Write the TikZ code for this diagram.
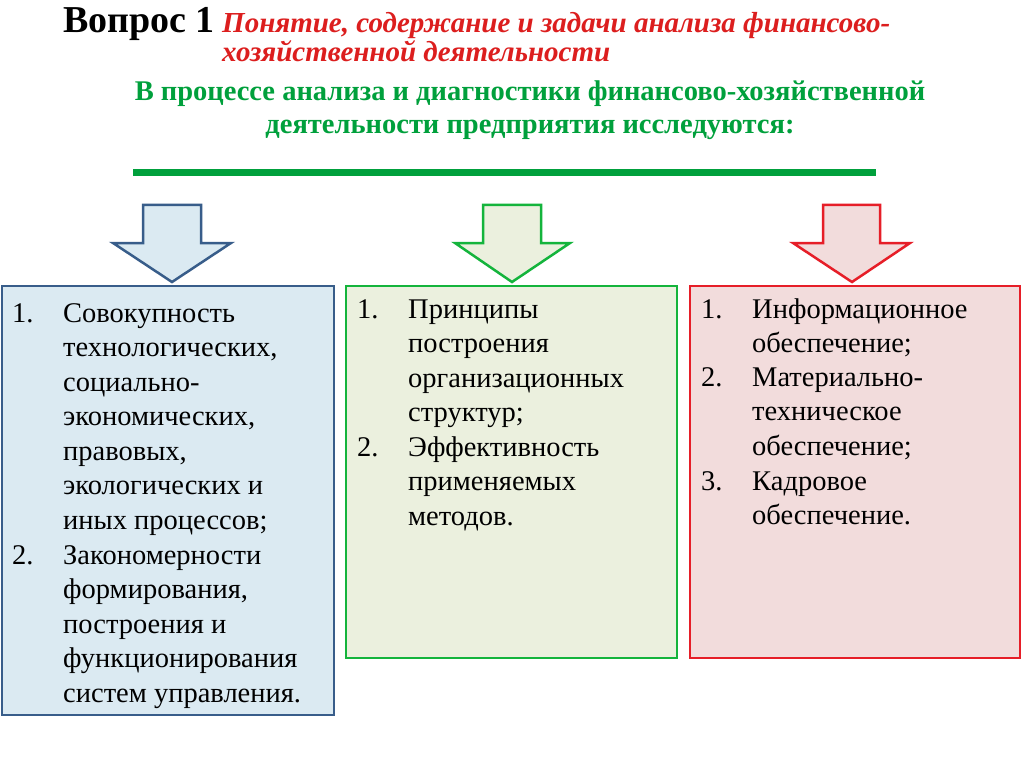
\documentclass[tikz,border=0pt]{standalone}
\usepackage{fontspec}
\setmainfont{Liberation Serif}
\definecolor{bbord}{RGB}{56,93,138}
\definecolor{bfill}{RGB}{219,234,242}
\definecolor{gbord}{RGB}{20,180,60}
\definecolor{gfill}{RGB}{235,240,222}
\definecolor{rbord}{RGB}{230,30,40}
\definecolor{rfill}{RGB}{242,220,220}
\definecolor{ttlred}{RGB}{220,30,30}
\definecolor{ttlgreen}{RGB}{0,160,60}
\newcommand\mylines[2]{\vtop{\baselineskip=#1\lineskiplimit=-100pt\lineskip=0pt\halign{##\hfil\cr#2\crcr}}}
\tikzset{
 body/.style={anchor=base west,inner sep=0pt,font=\fontsize{28.5}{34.5}\selectfont},
 num/.style={anchor=base west,inner sep=0pt,font=\fontsize{28.5}{34.5}\selectfont},
 bigarrow/.style={line width=2.5pt,line join=miter},
 box/.style={line width=2pt}
}
\begin{document}
\begin{tikzpicture}[x=1pt,y=-1pt]
\useasboundingbox (0,0) rectangle (1024,767);
\fill[white] (0,0) rectangle (1024,767);
\node[anchor=base west,inner sep=0pt,font=\fontsize{38}{40}\bfseries\selectfont] (t1) at (63,33) {Вопрос 1};
\node[anchor=base west,inner sep=0pt,text=ttlred,font=\fontsize{29}{29}\bfseries\itshape\selectfont] (t2) at (222,33) {\mylines{29pt}{Понятие, содержание и задачи анализа финансово-\cr хозяйственной деятельности}};
\node[anchor=base,inner sep=0pt,text=ttlgreen,font=\fontsize{28.5}{32}\bfseries\selectfont] (t3) at (530,101) {В процессе анализа и диагностики финансово-хозяйственной};
\node[anchor=base,inner sep=0pt,text=ttlgreen,font=\fontsize{28.5}{32}\bfseries\selectfont] (t4) at (530,134) {деятельности предприятия исследуются:};
\draw[ttlgreen,line width=7pt] (133,173) -- (876,173);
% arrows
\draw[bigarrow,bbord,fill=bfill] (143,205) -- (201,205) -- (201,243) -- (231,243) -- (172,282) -- (113,243) -- (143,243) -- cycle;
\draw[bigarrow,gbord,fill=gfill] (483,205) -- (541,205) -- (541,243) -- (570,243) -- (512,282) -- (455,243) -- (483,243) -- cycle;
\draw[bigarrow,rbord,fill=rfill] (823,205) -- (880,205) -- (880,243) -- (910,243) -- (852,282) -- (793,243) -- (823,243) -- cycle;
% boxes
\draw[box,bbord,fill=bfill] (2,286) rectangle (334,715);
\draw[box,gbord,fill=gfill] (346,286) rectangle (677,658);
\draw[box,rbord,fill=rfill] (690,286) rectangle (1020,658);
% box1
\node[num] (b1n1) at (12,322) {1.};
\node[body] (b1i1) at (63,322) {\mylines{34.5pt}{Совокупность\cr технологических,\cr социально-\cr экономических,\cr правовых,\cr экологических и\cr иных процессов;}};
\node[num] (b1n2) at (12,564) {2.};
\node[body] (b1i2) at (63,564) {\mylines{34.5pt}{Закономерности\cr формирования,\cr построения и\cr функционирования\cr систем управления.}};
% box2
\node[num] (b2n1) at (357,318) {1.};
\node[body] (b2i1) at (408,318) {\mylines{34.5pt}{Принципы\cr построения\cr организационных\cr структур;}};
\node[num] (b2n2) at (357,456) {2.};
\node[body] (b2i2) at (408,456) {\mylines{34.5pt}{Эффективность\cr применяемых\cr методов.}};
% box3
\node[num] (b3n1) at (701,318) {1.};
\node[body] (b3i1) at (752,318) {\mylines{34.5pt}{Информационное\cr обеспечение;}};
\node[num] (b3n2) at (701,386) {2.};
\node[body] (b3i2) at (752,386) {\mylines{34.5pt}{Материально-\cr техническое\cr обеспечение;}};
\node[num] (b3n3) at (701,490) {3.};
\node[body] (b3i3) at (752,490) {\mylines{34.5pt}{Кадровое\cr обеспечение.}};
\end{tikzpicture}
\end{document}
